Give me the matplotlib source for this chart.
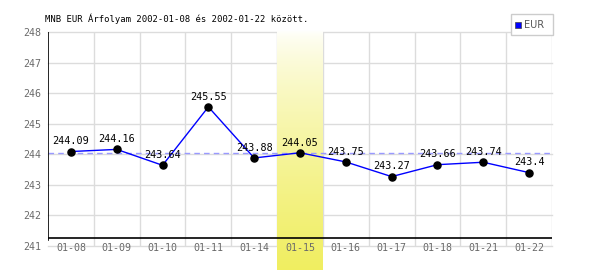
import numpy as np
import matplotlib
matplotlib.use('Agg')
from matplotlib import pyplot as plt
from matplotlib.patches import Rectangle

dates = ['01-08', '01-09', '01-10', '01-11', '01-14', '01-15',
         '01-16', '01-17', '01-18', '01-21', '01-22']
rates = [244.09, 244.16, 243.64, 245.55, 243.88, 244.05,
         243.75, 243.27, 243.66, 243.74, 243.4]
labels = ['244.09', '244.16', '243.64', '245.55', '243.88', '244.05',
          '243.75', '243.27', '243.66', '243.74', '243.4']
highlight = 5
ref_level = 244.05
yticks = [241, 242, 243, 244, 245, 246, 247, 248]

plt.rcParams['font.family'] = 'DejaVu Sans Mono'

fig = plt.figure(figsize=(6, 2.7), dpi=100)
ax = fig.add_axes([48/600, 1-246/270, 504/600, 214/270])
x = np.arange(len(dates))

# grid
for v in yticks:
    ax.axhline(v, color='#dcdcdc', lw=1, zorder=0, clip_on=False)
for gx in np.arange(0.5, len(dates), 1.0):
    ax.axvline(gx, color='#dcdcdc', lw=1, zorder=0)

# highlighted day, gradient white -> yellow
grad = np.linspace(0, 1, 256).reshape(-1, 1)
top = np.array([1.0, 1.0, 1.0])
bot = np.array([0xf0, 0xee, 0x60]) / 255.0
img = top + (bot - top) * grad[:, :, None] ** 0.7
ax.imshow(img, extent=[highlight - 0.5, highlight + 0.5, 240.2, 248.05],
          aspect='auto', origin='upper', zorder=0.5, clip_on=False)
ax.set_xlim(-0.5, len(dates) - 0.5)
ax.set_ylim(241, 248)

ax.axhline(ref_level, color='#9999ff', lw=1, ls=(0, (4, 3)), zorder=1)
ax.plot(x, rates, color='#0000ff', lw=1, zorder=2)
ax.scatter(x, rates, s=26, color='black', zorder=3)
for xi, yi, t in zip(x, rates, labels):
    ax.text(xi, yi + 0.17, t, ha='center', va='bottom', fontsize=7.3, color='black', zorder=4)

# black axis lines
ax.axvline(-0.5, color='black', lw=1.2, zorder=5, ymin=0.03)
ax.axhline(241.26, color='black', lw=1.2, zorder=5)

for s in ax.spines.values():
    s.set_visible(False)

ax.set_xticks(x)
ax.set_xticklabels(dates)
ax.set_yticks(yticks)
ax.tick_params(length=0, labelsize=7.2, labelcolor='#6a6a6a')
ax.tick_params(axis='x', pad=-2.5)
ax.tick_params(axis='y', pad=4.5)

fig.text(45/600, 1-18.5/270, 'MNB EUR Árfolyam 2002-01-08 és 2002-01-22 között.',
         fontsize=6.4, va='center', ha='left', color='black')

# legend box
leg = Rectangle((511/600, 1-35/270), 42/600, 21/270, transform=fig.transFigure,
                facecolor='white', edgecolor='#cccccc', lw=1)
fig.patches.append(leg)
fig.patches.append(Rectangle((515/600, 1-28/270), 6/600, 6/270, transform=fig.transFigure,
                             facecolor='#0000ff', edgecolor='#444444', lw=0.5))
fig.text(524/600, 1-25/270, 'EUR', fontsize=7, va='center', ha='left', color='#555555',
         family='DejaVu Sans')

fig.savefig('out.png', dpi=100)
